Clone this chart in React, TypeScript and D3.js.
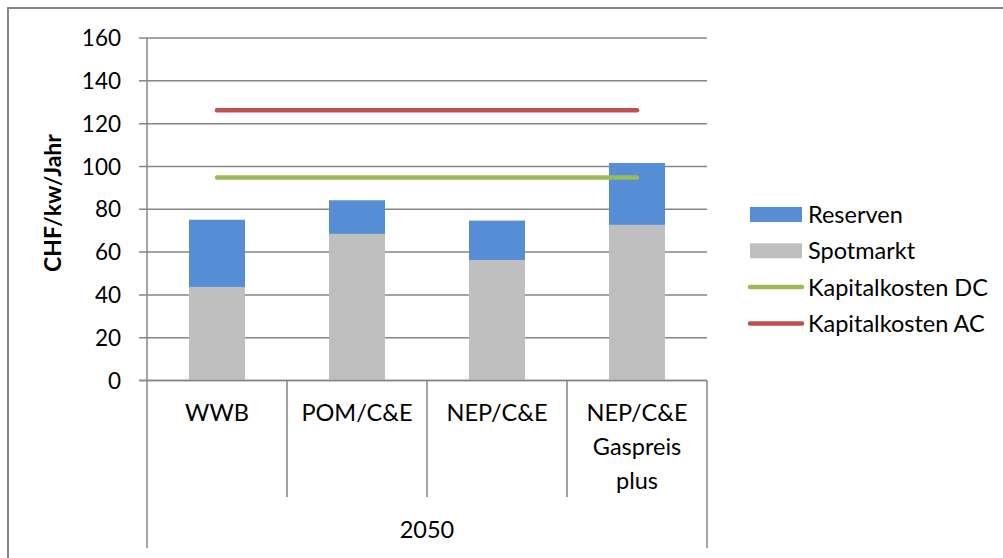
import React from "react";
import * as d3 from "d3";

const categories = ["WWB", "POM/C&E", "NEP/C&E", "NEP/C&E Gaspreis plus"];
const categoryLines = [["WWB"], ["POM/C&E"], ["NEP/C&E"], ["NEP/C&E", "Gaspreis", "plus"]];
const spotmarkt = [43.7, 68.5, 56.3, 72.7];
const reservenTotal = [75.1, 84.2, 74.7, 101.6];
const kapitalDC = [94.8, 94.8, 94.8, 94.8];
const kapitalAC = [126.3, 126.3, 126.3, 126.3];
const yTicks = [0, 20, 40, 60, 80, 100, 120, 140, 160];
const groupLabel = "2050";
const legendItems = [
  { name: "Reserven", type: "rect", color: "#558ED5" },
  { name: "Spotmarkt", type: "rect", color: "#BFBFBF" },
  { name: "Kapitalkosten DC", type: "line", color: "#9BBB59" },
  { name: "Kapitalkosten AC", type: "line", color: "#C0504D" },
];

const FONT = "Lato, 'Open Sans', sans-serif";
const GRID = "#868686";

export default function App() {
  const left = 147, right = 707, top = 38, bottom = 380.5;
  const x = d3.scaleBand<string>().domain(categories).range([left, right]).paddingInner(0).paddingOuter(0);
  const y = d3.scaleLinear().domain([0, 160]).range([bottom, top]);
  const bw = x.bandwidth() * 0.4;
  const cx = (c: string) => (x(c) as number) + x.bandwidth() / 2;
  const lineGen = d3.line<number>().x((_, i) => cx(categories[i])).y((d) => y(d));

  return (
    <svg width={1003} height={558} style={{ position: "absolute", left: 0, top: 0, background: "#fff" }}>
      <rect x={8} y={8} width={1000} height={560} fill="#fff" stroke={GRID} strokeWidth={2} />
      {yTicks.map((t) => (
        <g key={t}>
          <line x1={left - 8} x2={right} y1={y(t)} y2={y(t)} stroke={GRID} strokeWidth={1.5} />
          <text x={121} y={y(t)} dy="0.36em" textAnchor="end" fontFamily={FONT} fontSize={22.5} fill="#000">
            {t}
          </text>
        </g>
      ))}
      {categories.map((c, i) => (
        <g key={c}>
          <rect x={cx(c) - bw / 2} y={y(spotmarkt[i])} width={bw} height={y(0) - y(spotmarkt[i])} fill="#BFBFBF" />
          <rect x={cx(c) - bw / 2} y={y(reservenTotal[i])} width={bw} height={y(spotmarkt[i]) - y(reservenTotal[i])} fill="#558ED5" />
        </g>
      ))}
      <line x1={left} x2={left} y1={top} y2={548} stroke={GRID} strokeWidth={1.5} />
      <line x1={left - 8} x2={right} y1={bottom} y2={bottom} stroke={GRID} strokeWidth={1.5} />
      {categories.map((c, i) => (
        <line key={"d" + i} x1={(x(c) as number) + x.bandwidth()} x2={(x(c) as number) + x.bandwidth()} y1={bottom} y2={i === categories.length - 1 ? 548 : 497} stroke={GRID} strokeWidth={1.5} />
      ))}
      <path d={lineGen(kapitalDC) || ""} fill="none" stroke="#9BBB59" strokeWidth={4.5} strokeLinecap="round" />
      <path d={lineGen(kapitalAC) || ""} fill="none" stroke="#C0504D" strokeWidth={4.5} strokeLinecap="round" />
      {categories.map((c, i) => (
        <text key={"l" + i} x={cx(c)} y={413} textAnchor="middle" fontFamily={FONT} fontSize={23.5} fill="#000">
          {categoryLines[i].map((s, j) => (
            <tspan key={j} x={cx(c)} y={413 + j * 34} dy="0.36em">{s}</tspan>
          ))}
        </text>
      ))}
      <text x={(left + right) / 2} y={530} dy="0.36em" textAnchor="middle" fontFamily={FONT} fontSize={23.5} fill="#000">
        {groupLabel}
      </text>
      <text transform={`translate(53,203) rotate(-90)`} textAnchor="middle" dy="0.36em" fontFamily={FONT} fontWeight="bold" fontSize={23} fill="#000">
        CHF/kw/Jahr
      </text>
      {legendItems.map((it, i) => {
        const ly = 214.5 + i * 36.3;
        return (
          <g key={it.name}>
            {it.type === "rect" ? (
              <rect x={750} y={ly - 7.5} width={52} height={15} fill={it.color} />
            ) : (
              <line x1={750} x2={802} y1={ly} y2={ly} stroke={it.color} strokeWidth={4.5} strokeLinecap="round" />
            )}
            <text x={808} y={ly} dy="0.36em" fontFamily={FONT} fontSize={23.5} fill="#000">
              {it.name}
            </text>
          </g>
        );
      })}
    </svg>
  );
}
